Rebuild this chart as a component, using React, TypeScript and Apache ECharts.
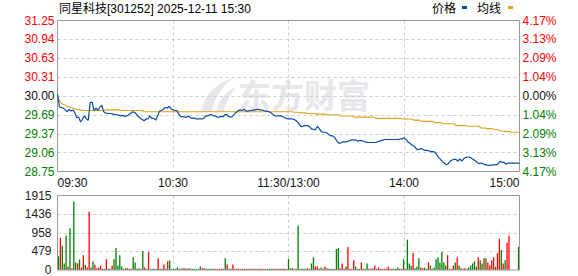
import React, { useEffect, useRef } from "react";
import * as echarts from "echarts";

const titleText = "同星科技[301252] 2025-12-11 15:30";
const legendPrice = "价格";
const legendAvg = "均线";
const watermark = "东方财富";
const timeTicks = ["09:30", "10:30", "11:30/13:00", "14:00", "15:00"];
const priceTicks = ["28.75", "29.06", "29.37", "29.69", "30.00", "30.31", "30.63", "30.94", "31.25"];
const pctTicks = ["4.17%", "3.13%", "2.09%", "1.04%", "0.00%", "1.04%", "2.09%", "3.13%", "4.17%"];
const volTicks = ["0", "479", "958", "1436", "1915"];
const preClose = 30.0;
const priceMin = 28.75;
const priceMax = 31.25;
const priceStep = 0.3125;
const volMax = 1915;
const volStep = 478.75;

const prices = [
  30.03, 29.82, 29.81, 29.80, 29.77, 29.74, 29.78, 29.75, 29.77, 29.72,
  29.64, 29.65, 29.57, 29.62, 29.67, 29.62, 29.60, 29.89, 29.90, 29.76,
  29.80, 29.76, 29.81, 29.85, 29.74, 29.72, 29.71, 29.71, 29.71, 29.70,
  29.69, 29.69, 29.68, 29.67, 29.68, 29.66, 29.67, 29.69, 29.71, 29.74,
  29.73, 29.70, 29.66, 29.63, 29.61, 29.59, 29.62, 29.62, 29.67, 29.63,
  29.63, 29.60, 29.67, 29.75, 29.76, 29.78, 29.81, 29.80, 29.83, 29.79,
  29.77, 29.76, 29.76, 29.70, 29.66, 29.66, 29.65, 29.65, 29.67, 29.64,
  29.63, 29.64, 29.62, 29.62, 29.62, 29.62, 29.63, 29.67, 29.67, 29.69,
  29.69, 29.67, 29.67, 29.65, 29.65, 29.66, 29.66, 29.69, 29.69, 29.66,
  29.65, 29.66, 29.71, 29.73, 29.76, 29.77, 29.76, 29.78, 29.75, 29.75,
  29.76, 29.76, 29.77, 29.77, 29.78, 29.77, 29.77, 29.76, 29.75, 29.75,
  29.74, 29.72, 29.69, 29.67, 29.67, 29.67, 29.67, 29.66, 29.64, 29.63,
  29.62, 29.62, 29.62, 29.61, 29.59, 29.56, 29.51, 29.49, 29.51, 29.51,
  29.51, 29.49, 29.45, 29.45, 29.44, 29.50, 29.46, 29.41, 29.40, 29.40,
  29.39, 29.36, 29.34, 29.34, 29.31, 29.26, 29.22, 29.22, 29.24, 29.24,
  29.24, 29.25, 29.26, 29.28, 29.27, 29.27, 29.25, 29.26, 29.26, 29.25,
  29.24, 29.23, 29.23, 29.23, 29.23, 29.23, 29.24, 29.25, 29.26, 29.27,
  29.28, 29.28, 29.28, 29.28, 29.28, 29.28, 29.28, 29.28, 29.29, 29.29,
  29.31, 29.28, 29.24, 29.22, 29.19, 29.18, 29.14, 29.11, 29.12, 29.13,
  29.11, 29.10, 29.10, 29.09, 29.08, 29.08, 29.07, 29.03, 28.98, 28.95,
  28.91, 28.89, 28.86, 28.88, 28.92, 28.94, 28.95, 28.95, 28.92, 28.96,
  28.92, 28.96, 28.98, 28.99, 28.99, 28.97, 28.95, 28.93, 28.90, 28.88,
  28.89, 28.88, 28.86, 28.86, 28.85, 28.85, 28.86, 28.86, 28.86, 28.88,
  28.92, 28.90, 28.90, 28.87, 28.89, 28.89, 28.89, 28.89, 28.89, 28.89,
  28.88,
];

const avgPrices = [
  29.99, 29.93, 29.88, 29.86, 29.85, 29.83, 29.82, 29.81, 29.80, 29.79,
  29.78, 29.77, 29.77, 29.76, 29.76, 29.76, 29.76, 29.76, 29.76, 29.76,
  29.76, 29.76, 29.76, 29.76, 29.76, 29.77, 29.77, 29.77, 29.77, 29.77,
  29.77, 29.77, 29.77, 29.76, 29.76, 29.76, 29.76, 29.76, 29.76, 29.76,
  29.76, 29.76, 29.76, 29.76, 29.76, 29.74, 29.74, 29.74, 29.74, 29.74,
  29.74, 29.74, 29.74, 29.74, 29.74, 29.74, 29.74, 29.74, 29.74, 29.74,
  29.74, 29.74, 29.74, 29.74, 29.74, 29.74, 29.74, 29.74, 29.74, 29.74,
  29.74, 29.74, 29.74, 29.74, 29.74, 29.74, 29.74, 29.74, 29.74, 29.74,
  29.74, 29.74, 29.74, 29.74, 29.74, 29.74, 29.74, 29.74, 29.74, 29.74,
  29.74, 29.74, 29.74, 29.74, 29.74, 29.74, 29.74, 29.74, 29.74, 29.74,
  29.74, 29.74, 29.74, 29.74, 29.74, 29.74, 29.74, 29.74, 29.74, 29.74,
  29.74, 29.74, 29.74, 29.74, 29.74, 29.74, 29.74, 29.74, 29.74, 29.74,
  29.74, 29.74, 29.74, 29.73, 29.73, 29.73, 29.72, 29.72, 29.72, 29.72,
  29.71, 29.71, 29.71, 29.71, 29.70, 29.70, 29.70, 29.70, 29.70, 29.70,
  29.69, 29.69, 29.69, 29.69, 29.69, 29.69, 29.69, 29.67, 29.67, 29.67,
  29.67, 29.67, 29.67, 29.67, 29.65, 29.65, 29.65, 29.65, 29.65, 29.65,
  29.65, 29.65, 29.65, 29.65, 29.65, 29.63, 29.63, 29.63, 29.63, 29.63,
  29.63, 29.63, 29.63, 29.63, 29.63, 29.63, 29.63, 29.63, 29.63, 29.62,
  29.62, 29.62, 29.62, 29.62, 29.62, 29.60, 29.60, 29.60, 29.60, 29.58,
  29.58, 29.58, 29.58, 29.58, 29.58, 29.58, 29.56, 29.56, 29.56, 29.56,
  29.54, 29.54, 29.54, 29.54, 29.54, 29.54, 29.54, 29.51, 29.51, 29.51,
  29.51, 29.51, 29.51, 29.50, 29.50, 29.50, 29.50, 29.50, 29.50, 29.50,
  29.47, 29.47, 29.47, 29.46, 29.46, 29.46, 29.46, 29.44, 29.44, 29.44,
  29.42, 29.42, 29.42, 29.41, 29.41, 29.41, 29.40, 29.40, 29.40, 29.40,
  29.40,
];

const volumes = [
  355, 825, 620, 170, 887, 90, 1073, 45, 1765, 195,
  170, 266, 62, 381, 133, 62, 1500, 62, 222, 133,
  45, 62, 115, 30, 30, 275, 30, 30, 115, 275,
  568, 115, 381, 89, 30, 45, 45, 30, 30, 328,
  195, 30, 45, 30, 488, 62, 30, 462, 30, 30,
  30, 30, 301, 30, 30, 142, 30, 222, 248, 30,
  30, 30, 62, 30, 30, 45, 45, 30, 45, 30,
  30, 30, 30, 30, 89, 45, 45, 30, 30, 30,
  30, 30, 30, 30, 30, 30, 30, 301, 142, 30,
  30, 142, 30, 30, 30, 30, 30, 30, 30, 30,
  30, 30, 30, 30, 30, 30, 30, 30, 30, 30,
  30, 30, 30, 30, 30, 30, 30, 30, 30, 30,
  284, 45, 45, 30, 30, 1135, 30, 30, 30, 30,
  45, 30, 168, 328, 89, 89, 30, 62, 30, 89,
  45, 30, 30, 30, 30, 541, 568, 45, 168, 30,
  89, 594, 30, 30, 248, 89, 30, 30, 195, 30,
  30, 168, 30, 30, 45, 115, 30, 62, 30, 30,
  30, 30, 89, 30, 30, 30, 30, 62, 30, 30,
  275, 30, 780, 168, 115, 435, 45, 89, 300, 62,
  45, 62, 30, 195, 115, 30, 62, 275, 328, 195,
  460, 195, 115, 380, 30, 30, 115, 195, 328, 115,
  45, 30, 45, 30, 62, 115, 168, 222, 89, 328,
  248, 168, 302, 302, 195, 115, 248, 328, 89, 435,
  807, 515, 168, 248, 700, 887, 0, 0, 0, 0,
  594,
];

// r = price up (red), g = price down (green)
const volDirs = (
  "grgggrgrgg" + "rgrrgrrggr" + "rrrggrggrg" + "ggggrgrrrg" + "gggrgrgrgg" +
  "ggrrgrgrgg" + "ggggrgrrgr" + "gggggrrggg" + "grrrrrrgrg" + "grrrrrgrgr" +
  "rgrggrrgrr" + "ggrrgrrrgr" + "ggrggggggr" + "grggrrggrr" + "grgggggrrr" +
  "grrrrgggrg" + "ggrrgrrrrr" + "rrrrrgggrr" + "grgggrgggr" + "rggrgggggg" +
  "gggrgrrgrg" + "rrrggggggr" + "ggrgrrrrgr" + "rgrgrrrrrr" + "g"
).split("");

const RED = "#ff0000";
const GREEN = "#008000";
const PRICE_COLOR = "#0a4ea3";
const AVG_COLOR = "#e0a31e";
const GRID_LINE = "#cccccc";
const BORDER = "#999999";
const WATERMARK = "#e6e6ec";
const NUM_FONT = "'Liberation Sans', Arial, sans-serif";
const CJK_FONT = "'Liberation Sans', 'Noto Sans CJK SC', sans-serif";

echarts.graphic.registerShape(
  "emlogo",
  echarts.graphic.extendPath(
    "M3,34 C4,19 15,6 34,0 C22,9 15,21 13,34 Z M17,34 C19,23 27,13 37,9 C31,17 26,26 25,34 Z",
    {}
  ) as any
);

function priceColor(v: number) {
  if (v > preClose + 1e-6) return RED;
  if (v < preClose - 1e-6) return GREEN;
  return "#111111";
}

function buildOption(): any {
  const gridLeft = 57.5;
  const gridWidth = 462;
  const dashed = { type: [3, 3], color: GRID_LINE, width: 1 };
  return {
    animation: false,
    backgroundColor: "#ffffff",
    textStyle: { fontFamily: NUM_FONT },
    grid: [
      { left: gridLeft, top: 20.5, width: gridWidth, height: 151, show: true, borderColor: BORDER, borderWidth: 1, backgroundColor: "transparent", z: 3 },
      { left: gridLeft, top: 195.5, width: gridWidth, height: 75, show: true, borderColor: BORDER, borderWidth: 1, backgroundColor: "transparent", z: 3 },
    ],
    xAxis: [
      {
        type: "value", gridIndex: 0, min: 0, max: 240, interval: 60,
        axisLine: { show: false }, axisTick: { show: false },
        axisLabel: {
          show: true, margin: 5, fontSize: 12, color: "#111", fontFamily: NUM_FONT,
          alignMinLabel: "left", alignMaxLabel: "right",
          formatter: (v: number) => timeTicks[Math.round(v / 60)] ?? "",
        },
        splitLine: { show: true, showMinLine: false, showMaxLine: false, lineStyle: dashed },
      },
      {
        type: "value", gridIndex: 1, min: 0, max: 240, interval: 60,
        axisLine: { show: false }, axisTick: { show: false }, axisLabel: { show: false },
        splitLine: { show: true, showMinLine: false, showMaxLine: false, lineStyle: dashed },
      },
      {
        type: "value", gridIndex: 1, min: -0.5, max: 240.5, show: false,
        splitLine: { show: false },
      },
    ],
    yAxis: [
      {
        type: "value", gridIndex: 0, min: priceMin, max: priceMax, interval: priceStep,
        axisLine: { show: false }, axisTick: { show: false },
        axisLabel: {
          margin: 3, fontSize: 12, fontFamily: NUM_FONT,
          formatter: (v: number) => priceTicks[Math.round((v - priceMin) / priceStep)] ?? "",
          color: (v: number) => priceColor(Number(v)),
        },
        splitLine: { show: true, showMinLine: false, showMaxLine: false, lineStyle: dashed },
      },
      {
        type: "value", gridIndex: 0, min: priceMin, max: priceMax, interval: priceStep, position: "right",
        axisLine: { show: false }, axisTick: { show: false },
        axisLabel: {
          margin: 3, fontSize: 12, fontFamily: NUM_FONT,
          formatter: (v: number) => pctTicks[Math.round((v - priceMin) / priceStep)] ?? "",
          color: (v: number) => priceColor(Number(v)),
        },
        splitLine: { show: false },
      },
      {
        type: "value", gridIndex: 1, min: 0, max: volMax, interval: volStep,
        axisLine: { show: false }, axisTick: { show: false },
        axisLabel: {
          margin: 6, fontSize: 12, fontFamily: NUM_FONT, color: "#222",
          formatter: (v: number) => volTicks[Math.round(v / volStep)] ?? "",
        },
        splitLine: { show: true, showMinLine: false, showMaxLine: false, lineStyle: dashed },
      },
    ],
    graphic: [
      {
        type: "emlogo", x: 199, y: 78, scaleX: 1, scaleY: 1, z: 0, silent: true,
        style: { fill: WATERMARK },
      },
      {
        type: "text", left: 238, top: 77, z: 0, silent: true,
        style: { text: watermark, fontSize: 33, fontWeight: "bold", fill: WATERMARK, fontFamily: "'Noto Sans CJK SC', sans-serif" },
      },
      {
        type: "text", x: 59, y: 9, silent: true,
        style: { text: titleText, fontSize: 12, fill: "#000", fontFamily: CJK_FONT, textVerticalAlign: "middle" },
      },
      {
        type: "text", x: 432, y: 9, silent: true,
        style: { text: legendPrice, fontSize: 12, fill: "#000", fontFamily: CJK_FONT, textVerticalAlign: "middle" },
      },
      { type: "rect", shape: { x: 462, y: 6, width: 5, height: 3 }, style: { fill: PRICE_COLOR }, silent: true },
      {
        type: "text", x: 477, y: 9, silent: true,
        style: { text: legendAvg, fontSize: 12, fill: "#000", fontFamily: CJK_FONT, textVerticalAlign: "middle" },
      },
      { type: "rect", shape: { x: 508, y: 6, width: 5, height: 3 }, style: { fill: AVG_COLOR }, silent: true },
    ],
    series: [
      {
        name: legendAvg, type: "line", xAxisIndex: 0, yAxisIndex: 0, z: 4,
        data: avgPrices.map((p, i) => [i, p]), symbol: "none", silent: true,
        lineStyle: { color: AVG_COLOR, width: 1.1 },
      },
      {
        name: legendPrice, type: "line", xAxisIndex: 0, yAxisIndex: 0, z: 5,
        data: prices.map((p, i) => [i, p]), symbol: "none", silent: true,
        lineStyle: { color: PRICE_COLOR, width: 1.2 },
      },
      {
        name: "成交量", type: "bar", xAxisIndex: 2, yAxisIndex: 2, barWidth: 1.3, silent: true,
        data: volumes.map((v, i) => ({ value: [i, v], itemStyle: { color: volDirs[i] === "r" ? RED : GREEN } })),
      },
    ],
  };
}

export default function App() {
  const ref = useRef<HTMLDivElement>(null);
  useEffect(() => {
    if (!ref.current) return;
    const chart = echarts.init(ref.current, null, { renderer: "svg" });
    chart.setOption(buildOption());
    return () => chart.dispose();
  }, []);
  return (
    <div
      ref={ref}
      style={{ position: "fixed", left: 0, top: 0, width: 578, height: 276, background: "#fff" }}
    />
  );
}
